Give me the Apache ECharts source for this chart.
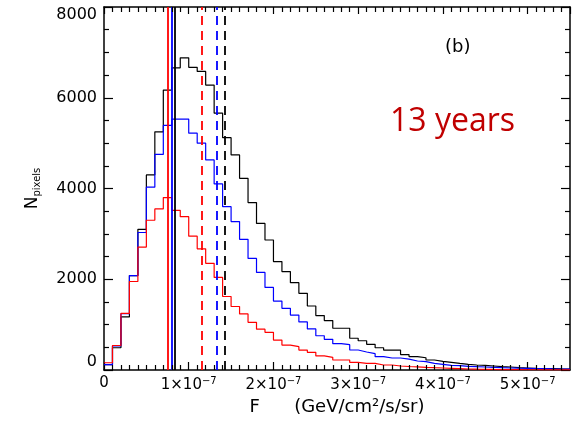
<!DOCTYPE html>
<html>
<head>
<meta charset="utf-8">
<script src="https://cdn.jsdelivr.net/npm/echarts@6/dist/echarts.min.js"></script>
<style>html,body{margin:0;padding:0;background:#fff}#c{width:578px;height:422px}</style>
</head>
<body>
<div id="c"></div>
<script>
// ---- data (F in units of 1e-7 GeV/cm^2/s/sr) ----
const fUnitExp = -7;
const binWidth = 0.1; // histogram bin width (x 1e-7)
const blackCounts = [120,490,1170,2080,3100,4300,5250,6170,6660,6880,6670,6580,6280,5660,5120,4740,4225,3690,3230,2865,2390,2170,1925,1690,1410,1200,1090,920,920,700,645,565,490,440,440,340,295,270,220,190,170,147,125,110,103,88,73,66,51,44,37,33,29,25,22];
const blueCounts  = [120,530,1240,2080,3030,4030,4750,5390,5530,5530,5220,5000,4630,4100,3600,3270,2880,2460,2150,1820,1520,1360,1210,1060,905,755,675,580,558,441,397,360,294,264,264,240,198,184,147,125,103,95,81,73,66,59,51,44,40,37,33,29,25,22,20];
const redCounts   = [160,540,1250,1950,2710,3300,3550,3800,3520,3380,2950,2670,2350,2040,1620,1400,1235,1050,900,830,660,550,515,440,390,310,280,220,220,170,147,147,110,110,88,77,70,59,51,44,37,30,22,18,15,12,10,8,7,6,5,4,3,3,2];
const seriesNames = ['black', 'blue', 'red'];
const seriesColors = ['#000000', '#0000ff', '#ff0000'];
const solidLineF = [0.84, 0.80, 0.758];   // solid vertical lines (x 1e-7)
const dashedLineF = [1.426, 1.328, 1.151]; // dashed vertical lines (x 1e-7)
const xMin = 0, xMax = 5.5, xMajor = 1, xMinor = 0.1;
const yMin = 0, yMax = 8000, yMajor = 2000, yMinor = 500;
const panelLabel = '(b)';
const noteText = '13 years';

function steps(vals) {
  const pts = vals.map((v, i) => [+(i * binWidth).toFixed(4), v]);
  pts.push([+(vals.length * binWidth).toFixed(4), vals[vals.length - 1]]);
  return pts;
}
const allCounts = [blackCounts, blueCounts, redCounts];

const chart = echarts.init(document.getElementById('c'), null, {renderer: 'canvas'});
const gridRect = {left: 104, right: 8, top: 7, bottom: 52};
const lblFont = 'DejaVu Sans';

function xLabel(v) {
  const k = Math.round(v);
  if (k === 0) return '{a|0}';
  return '{a|' + k + '×10}{s|−' + (-fUnitExp) + '}';
}

const series = allCounts.map((c, i) => ({
  name: seriesNames[i],
  type: 'line',
  step: 'end',
  xAxisIndex: 0, yAxisIndex: 0,
  data: steps(c),
  symbol: 'none',
  lineStyle: {color: seriesColors[i], width: 1.2},
  itemStyle: {color: seriesColors[i]},
  z: 2 + i,
  animation: false,
  markLine: {
    silent: true, symbol: 'none', animation: false, precision: 4,
    label: {show: false},
    data: [
      {xAxis: solidLineF[i], lineStyle: {color: seriesColors[i], width: 1.8, type: 'solid'}},
      {xAxis: dashedLineF[i], lineStyle: {color: seriesColors[i], width: 1.8, type: [9, 6]}}
    ]
  }
}));

// minor tick marks along the frame as short marker segments in data coordinates
const tickLenY = (yMax - yMin) * 5 / 363;   // ~5 px in y units
const tickLenX = (xMax - xMin) * 5 / 466;   // ~5 px in x units
const minorTickSegs = [];
const perMajorX = Math.round(xMajor / xMinor), perMajorY = Math.round(yMajor / yMinor);
for (let k = 1; k * xMinor < xMax - 1e-9; k++) {
  if (k % perMajorX === 0) continue;
  const x = +(k * xMinor).toFixed(4);
  minorTickSegs.push([{coord: [x, yMin]}, {coord: [x, yMin + tickLenY]}]);
  minorTickSegs.push([{coord: [x, yMax]}, {coord: [x, yMax - tickLenY]}]);
}
for (let k = 1; k * yMinor < yMax; k++) {
  if (k % perMajorY === 0) continue;
  const y = k * yMinor;
  minorTickSegs.push([{coord: [xMin, y]}, {coord: [xMin + tickLenX, y]}]);
  minorTickSegs.push([{coord: [xMax, y]}, {coord: [xMax - tickLenX, y]}]);
}
series.push({
  name: 'minorTicks', type: 'line', xAxisIndex: 0, yAxisIndex: 0,
  data: [[xMin, yMin]], symbol: 'none', silent: true, animation: false, z: 10,
  lineStyle: {width: 0, opacity: 0},
  markLine: {
    silent: true, symbol: 'none', animation: false, precision: 4,
    label: {show: false},
    lineStyle: {color: '#000', width: 1.2, type: 'solid'},
    emphasis: {disabled: true},
    data: minorTickSegs
  }
});

const axisLineStyle = {lineStyle: {color: '#000', width: 1.5}};
const majorTickStyle = {show: true, inside: true, length: 8, lineStyle: {color: '#000', width: 1.2}};
chart.setOption({
  animation: false,
  backgroundColor: '#fff',
  grid: Object.assign({}, gridRect),
  xAxis: [
    {type: 'value', position: 'bottom', min: xMin, max: xMax, interval: xMajor,
     axisLine: Object.assign({show: true, onZero: false}, axisLineStyle),
     axisTick: majorTickStyle,
     splitLine: {show: false},
     axisLabel: {show: true, margin: 6, showMaxLabel: false, formatter: xLabel,
       rich: {a: {fontFamily: lblFont, fontSize: 15, color: '#000'},
              s: {fontFamily: lblFont, fontSize: 10, color: '#000', padding: [0, 0, 9, 0]}}},
     name: 'F      (GeV/cm²/s/sr)', nameLocation: 'middle', nameGap: 28,
     nameTextStyle: {fontFamily: lblFont, fontSize: 18, color: '#000'}},
    {type: 'value', position: 'top', min: xMin, max: xMax, interval: xMajor,
     axisLine: Object.assign({show: true, onZero: false}, axisLineStyle),
     axisTick: Object.assign({}, majorTickStyle, {length: 7}),
     splitLine: {show: false}, axisLabel: {show: false}}
  ],
  yAxis: [
    {type: 'value', position: 'left', min: yMin, max: yMax, interval: yMajor,
     axisLine: Object.assign({show: true, onZero: false}, axisLineStyle),
     axisTick: Object.assign({}, majorTickStyle, {length: 9}),
     splitLine: {show: false},
     axisLabel: {show: true, margin: 7, fontFamily: lblFont, fontSize: 16, color: '#000',
       formatter: v => String(v),
       verticalAlignMinLabel: 'bottom', verticalAlignMaxLabel: 'top'},
     name: '{n|N}{s|pixels}', nameLocation: 'middle', nameGap: 62, nameRotate: 90,
     nameTextStyle: {rich: {n: {fontFamily: lblFont, fontSize: 17, color: '#000'},
                            s: {fontFamily: lblFont, fontSize: 10, color: '#000', padding: [8, 0, 0, 0]}}}},
    {type: 'value', position: 'right', min: yMin, max: yMax, interval: yMajor,
     axisLine: Object.assign({show: true, onZero: false}, axisLineStyle),
     axisTick: Object.assign({}, majorTickStyle, {length: 9}),
     splitLine: {show: false}, axisLabel: {show: false}}
  ],
  series: series,
  graphic: [
    {type: 'text', left: 445, top: 38, style: {text: panelLabel, font: '18px "DejaVu Sans"', fill: '#000'}},
    {type: 'text', left: 390, top: 106, style: {text: noteText, font: '32px "Open Sans"', fill: '#c00000'}}
  ]
});
</script>
</body>
</html>
